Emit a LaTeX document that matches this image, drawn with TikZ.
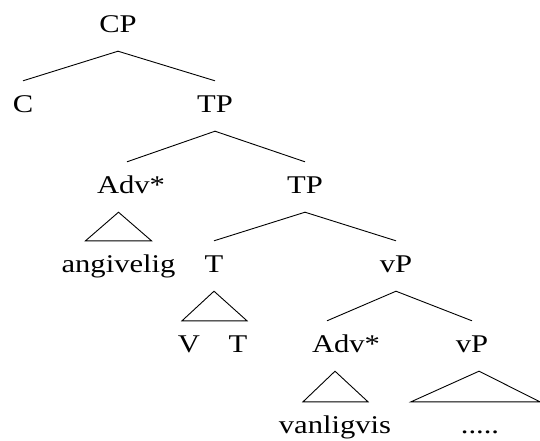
\documentclass[tikz,border=0pt]{standalone}
\usepackage{fontspec}
\setmainfont{Liberation Serif}[FakeStretch=1.2]
\usepackage{tikz}
\usetikzlibrary{calc}

\begin{document}
\begin{tikzpicture}[x=1pt,y=-1pt]
      \tikzstyle{lab}=[anchor=base,inner xsep=0pt,inner ysep=14pt,
        text height=17pt,text depth=5pt,
        font=\fontsize{25.5}{30}\selectfont]
      \tikzstyle{branch}=[line width=0.9pt]
      \useasboundingbox (0,0) rectangle (540,440);

      \node[lab](cp) at (118,32){CP};
      \node[lab](c) at (23,112){C};
      \node[lab](tp1) at (215,112){TP};
      \node[lab](adv1) at (131,193){Adv*};
      \node[lab](tp2) at (305,193){TP};
      \node[lab](angi) at (118.5,272){angivelig};
      \node[lab](t) at (214,272){T};
      \node[lab](vp1) at (396,272){vP};
      \node[lab](v) at (189,352){V};
      \node[lab](t2) at (238,352){T};
      \node[lab](adv2) at (346,352){Adv*};
      \node[lab](vp2) at (472,352){vP};
      \node[lab](vanlig) at (335,433){vanligvis};
      \node[lab](dots) at (480,433){.....};

      \draw[branch] (c.north) -- (cp.south) -- (tp1.north);
      \draw[branch] ([xshift=-4pt]adv1.north) -- (tp1.south) -- (tp2.north);
      \draw[branch] (t.north) -- (tp2.south) -- (vp1.north);
      \draw[branch] ([xshift=-19pt]adv2.north) -- (vp1.south) -- (vp2.north);

      \draw[branch] (angi.north |- adv1.south)
        -- ($(angi.north)+(-33,0)$) -- ($(angi.north)+(33,0)$) -- cycle;
      \draw[branch] (t.south)
        -- ($(t.south |- v.north)+(-32,0)$) -- ($(t.south |- v.north)+(33,0)$) -- cycle;
      \draw[branch] (vanlig.north |- adv2.south)
        -- ($(vanlig.north)+(-32,0)$) -- ($(vanlig.north)+(33,0)$) -- cycle;
      \draw[branch] ($(vp2.south)+(7,0)$)
        -- ($(dots.north)+(-69,0)$) -- ($(dots.north)+(60,0)$) -- cycle;
    \end{tikzpicture}
\end{document}
